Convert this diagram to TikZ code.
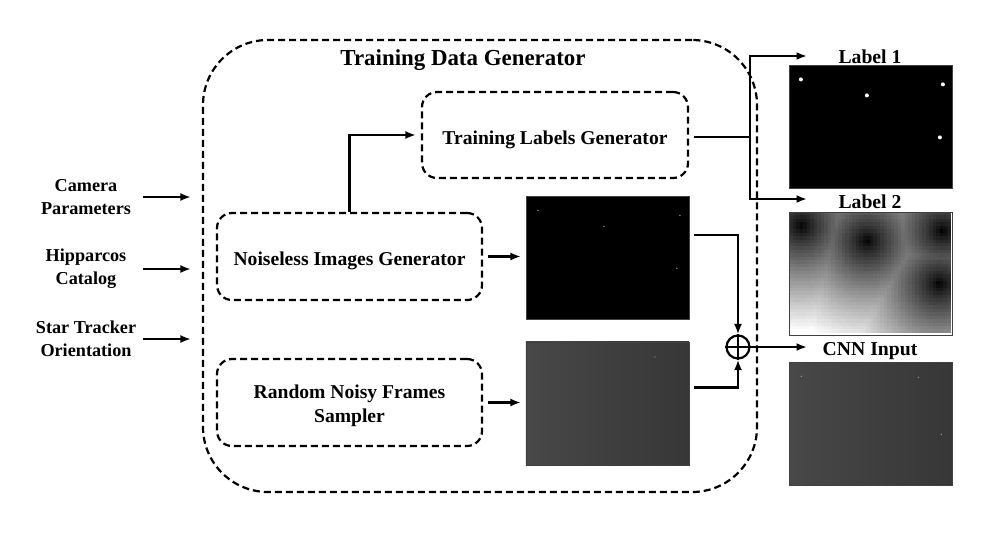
\documentclass[tikz,border=0pt]{standalone}
\usepackage{fontspec}
\setmainfont{Liberation Serif}
\usetikzlibrary{arrows.meta}

\pgfdeclarehorizontalshading{noisyframe}{100bp}{color(0bp)=(black!73);
  color(20bp)=(black!71); color(55bp)=(black!76); color(80bp)=(black!79);
  color(87bp)=(black!58); color(100bp)=(black!64)}

\begin{document}
\begin{tikzpicture}[ x=1pt, y=-1pt, >={Latex[length=10.5pt,width=8pt]},
        line width=2.2pt,
        dashbox/.style={ draw, dash pattern=on 7pt off 4pt, rounded corners=15pt,
          align=center, text height=23pt, font=\fontsize{19.6}{24}\selectfont\bfseries },
        sidetext/.style={ align=center, font=\fontsize{18.2}{23}\selectfont\bfseries },
        imgtitle/.style={ font=\fontsize{19.7}{24}\selectfont\bfseries },
        frame/.style={ minimum width=161pt, minimum height=121pt, inner sep=0pt },
        feed/.style={ ->, shorten <=5pt, shorten >=5pt } ]
        \useasboundingbox (0,0) rectangle (995,552);

        \node[dashbox,rounded corners=65pt,minimum width=554pt,minimum height=452pt]
        (tdg) at (480,266) {};
        \node[font=\fontsize{22.9}{27}\selectfont\bfseries] (title) at (463,60)
        {Training Data Generator};

        \node[dashbox,minimum width=266pt,minimum height=86pt] (labgen) at (555,135)
        {Training Labels Generator};
        \node[dashbox,minimum width=265pt,minimum height=87pt] (noisegen) at (349.5,256.5)
        {Noiseless Images Generator};
        \node[dashbox,text height=45pt,minimum width=265pt,minimum height=87pt] (sampler)
        at (349.5,402.5) {Random Noisy Frames\\Sampler};

        \foreach \y/\t/\n in {197/Camera\\Parameters/cam,269/Hipparcos\\Catalog/hip,
          339/Star Tracker\\Orientation/ori} {
          \node[sidetext] (\n) at (86,\y) {\t};
          \draw[->,shorten >=11pt] ([xshift=57pt]\n.center) -- (\n -| tdg.west); }

        % image frames
        \node[frame] (clean) at (607.5,258) {};
        \node[frame] (noisy) at (607.5,403.5) {};
        \node[frame] (lab1) at (870.5,127) {};
        \node[frame] (lab2) at (871,273.5) {};
        \node[frame] (cnn) at (871,424) {};

        \fill (clean.north west) rectangle (clean.south east);
        \fill (lab1.north west) rectangle (lab1.south east);
        \shade[shading=noisyframe] (noisy.north west) rectangle (noisy.south east);
        \shade[shading=noisyframe] (cnn.north west) rectangle (cnn.south east);

        \begin{scope}[shift={(lab2.north west)}]
          \foreach \i in {0,...,45} \foreach \j in {0,...,34} {
            \pgfmathsetmacro\cx{3.5*\i+1.75}
            \pgfmathsetmacro\cy{3.457*\j+1.73}
            \pgfmathsetmacro\d{min(veclen(\cx-12,\cy-14),veclen(\cx-78,\cy-29),
              veclen(\cx-153,\cy-19),veclen(\cx-150,\cy-72))}
            \pgfmathtruncatemacro\p{min(100,100*(\d/105)^0.8)}
            \fill[white!\p!black] (3.5*\i,3.457*\j) rectangle ++(3.7,3.7); }
        \end{scope}

        \foreach \sx/\sy in {12/14,78/30,154/19,151/72} {
          \fill[white] ([shift={(\sx,\sy)}]lab1.north west) circle (2pt);
          \fill[black!50] ([shift={(\sx,\sy)}]clean.north west) circle (0.9pt); }
        \foreach \sx/\sy in {12/14,129/15,152/72}
        \fill[black!45] ([shift={(\sx,\sy)}]cnn.north west) circle (0.8pt);
        \fill[black!50] ([shift={(129,15)}]noisy.north west) circle (0.8pt);

        \foreach \n in {clean,noisy,lab1,lab2,cnn}
        \draw[line width=0.6pt,black!75] (\n.north west) rectangle (\n.south east);

        \node[imgtitle] (l1) at (870,57) {Label 1};
        \node[imgtitle] (l2) at (870,202) {Label 2};
        \node[imgtitle] (cnnl) at (870,351) {CNN Input};

        \node[circle,draw,minimum size=23pt,inner sep=0pt] (sum) at (738,347) {};
        \draw (sum.north) -- (sum.south) (sum.west) -- (sum.east);

        \coordinate (split) at (750,137);
        \coordinate (lab1in) at (807,56);
        \coordinate (lab2in) at (807,199);
        \coordinate (cnnin) at (807,347);

        \draw[->,shorten >=5pt] (noisegen.north) |- (labgen.west);
        \draw[feed] (noisegen.east) -- (noisegen.east -| clean.west);
        \draw[feed] (sampler.east) -- (sampler.east -| noisy.west);
        \draw[shorten <=5pt] (labgen.east |- split) -- (split);
        \draw[->] (split) |- (lab1in); \draw[->] (split) |- (lab2in);
        \draw[->] ([xshift=5pt,yshift=23pt]clean.east) -| (sum.north);
        \draw[->] ([xshift=5pt,yshift=16pt]noisy.east) -| (sum.south);
        \draw[->] (sum.east) -- (cnnin);
      \end{tikzpicture}
\end{document}
